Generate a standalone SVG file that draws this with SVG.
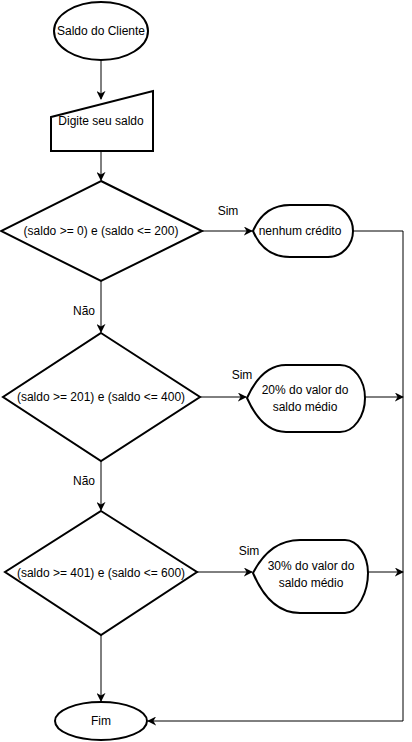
<svg xmlns="http://www.w3.org/2000/svg" width="412" height="742" viewBox="0 0 412 742">
<defs>
<marker id="arr" viewBox="0 0 10 10" refX="9" refY="5" markerWidth="9" markerHeight="9" markerUnits="userSpaceOnUse" orient="auto">
<path d="M0,0 L10,5 L0,10 L3,5 Z" fill="#000"/>
</marker>
</defs>
<style>
.shape{fill:#fff;stroke:#000;stroke-width:2}
.conn{fill:none;stroke:#000;stroke-width:1}
text{font-family:"Liberation Sans",Arial,sans-serif;font-size:12px;fill:#000;text-anchor:middle;dominant-baseline:central}
</style>
<rect width="412" height="742" fill="#fff"/>
<g id="connectors">
<path class="conn" d="M101,60 L101,99" marker-end="url(#arr)"/>
<path class="conn" d="M101,151 L101,180" marker-end="url(#arr)"/>
<path class="conn" d="M202,231 L252,231" marker-end="url(#arr)"/>
<path class="conn" d="M101,281 L101,332" marker-end="url(#arr)"/>
<path class="conn" d="M200,397 L246,397" marker-end="url(#arr)"/>
<path class="conn" d="M101,461 L101,510" marker-end="url(#arr)"/>
<path class="conn" d="M197,572 L252,572" marker-end="url(#arr)"/>
<path class="conn" d="M101,635 L101,701" marker-end="url(#arr)"/>
<path class="conn" d="M353,231 L403,231 L403,721 L148,721" marker-end="url(#arr)"/>
<path class="conn" d="M365,397 L403,397" marker-end="url(#arr)"/>
<path class="conn" d="M368,572 L403,572" marker-end="url(#arr)"/>
<text x="228" y="211">Sim</text>
<text x="242" y="375">Sim</text>
<text x="249" y="551">Sim</text>
<text x="84" y="311">Não</text>
<text x="84" y="481">Não</text>
</g>
<g id="start">
<ellipse class="shape" cx="101" cy="31" rx="47" ry="29"/>
<text x="101" y="31">Saldo do Cliente</text>
</g>
<g id="input">
<path class="shape" d="M51,117 L153,91 L153,151 L51,151 Z"/>
<text x="101" y="121">Digite seu saldo</text>
</g>
<g id="dec1">
<path class="shape" d="M101,181 L202,231 L101,281 L1,231 Z"/>
<text x="101" y="231">(saldo &gt;= 0) e (saldo &lt;= 200)</text>
</g>
<g id="out1">
<path class="shape" d="M253,231 Q264,205 290,205 L328,205 C342,205 353,217 353,231 C353,245 342,257 328,257 L290,257 Q264,257 253,231 Z"/>
<text x="300" y="231">nenhum crédito</text>
</g>
<g id="dec2">
<path class="shape" d="M101,333 L200,397 L101,461 L3,397 Z"/>
<text x="101" y="397">(saldo &gt;= 201) e (saldo &lt;= 400)</text>
</g>
<g id="out2">
<path class="shape" d="M247,398 Q262,365 286,365 L340,365 C354,365 365,380 365,398 C365,416 354,432 340,432 L286,432 Q262,432 247,398 Z"/>
<text x="305" y="390">20% do valor do</text>
<text x="305" y="407">saldo médio</text>
</g>
<g id="dec3">
<path class="shape" d="M101,511 L197,572 L101,635 L5,572 Z"/>
<text x="101" y="573">(saldo &gt;= 401) e (saldo &lt;= 600)</text>
</g>
<g id="out3">
<path class="shape" d="M253,573 Q270,540 300,540 L345,540 C358,540 368,556 368,573 C368,592 358,613 345,613 L300,613 Q270,613 253,573 Z"/>
<text x="311" y="566">30% do valor do</text>
<text x="311" y="583">saldo médio</text>
</g>
<g id="end">
<ellipse class="shape" cx="101" cy="721" rx="46" ry="19"/>
<text x="101" y="721">Fim</text>
</g>
</svg>
